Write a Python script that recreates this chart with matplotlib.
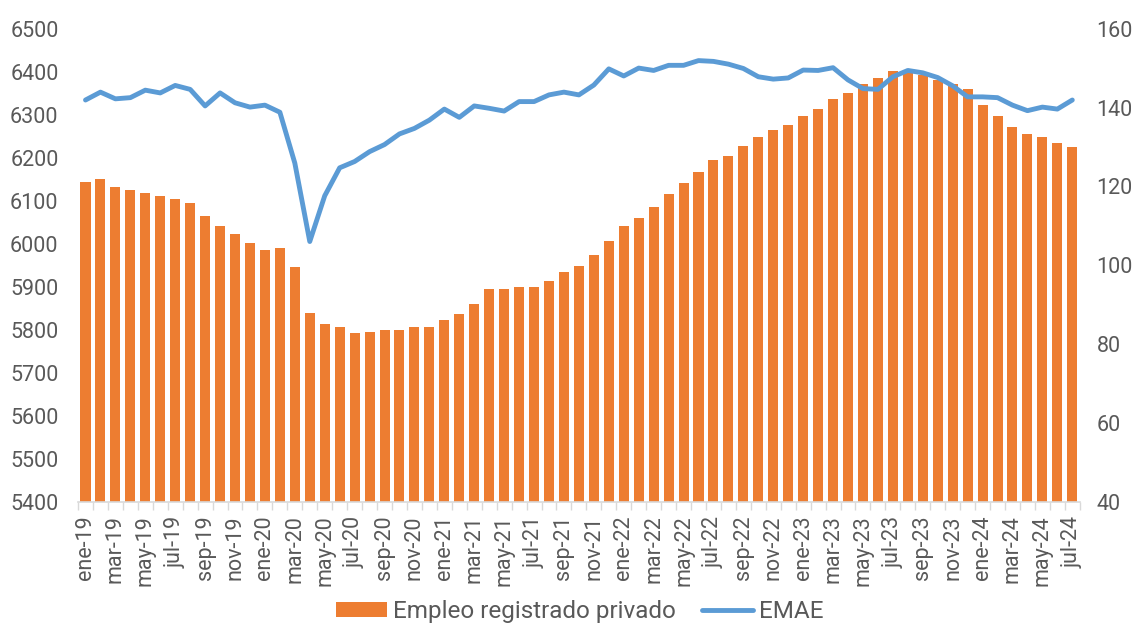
import matplotlib.pyplot as plt
import numpy as np

plt.rcParams['font.family'] = ['Roboto', 'DejaVu Sans']

meses = ['ene', 'feb', 'mar', 'abr', 'may', 'jun', 'jul', 'ago', 'sep', 'oct', 'nov', 'dic']
fechas = [f'{m}-{a}' for a in range(19, 25) for m in meses][:67]

# empleo registrado privado (miles)
empleo = [6144, 6150, 6131, 6125, 6119, 6110, 6104, 6094, 6064, 6040, 6022, 6001,
          5986, 5989, 5946, 5838, 5813, 5806, 5792, 5795, 5799, 5799, 5806, 5806,
          5823, 5837, 5860, 5894, 5895, 5900, 5900, 5913, 5934, 5948, 5973, 6007,
          6040, 6060, 6085, 6115, 6141, 6166, 6195, 6204, 6227, 6247, 6264, 6275,
          6296, 6313, 6336, 6351, 6371, 6385, 6401, 6402, 6392, 6381, 6371, 6360,
          6323, 6297, 6271, 6255, 6247, 6233, 6224]

emae = [141.9, 143.9, 142.2, 142.5, 144.4, 143.7, 145.6, 144.6, 140.4, 143.7, 141.2, 140.1,
        140.6, 138.8, 125.9, 106.0, 117.6, 124.7, 126.3, 128.8, 130.6, 133.3, 134.7, 136.8,
        139.6, 137.5, 140.4, 139.8, 139.1, 141.5, 141.5, 143.2, 143.9, 143.2, 145.7, 149.8,
        148.0, 150.0, 149.4, 150.7, 150.7, 151.9, 151.7, 151.0, 149.9, 147.8, 147.2, 147.5,
        149.5, 149.4, 150.1, 147.0, 144.8, 144.6, 147.8, 149.4, 148.8, 147.6, 145.5, 142.7,
        142.7, 142.5, 140.6, 139.2, 140.1, 139.6, 141.9]

x = np.arange(len(fechas))
gris = '#595959'

fig = plt.figure(figsize=(11.39, 6.26), dpi=100)
ax = fig.add_axes([0.0685, 0.1986, 0.8795, 0.7556])
ax2 = ax.twinx()

ax.bar(x, empleo, width=0.67, color='#ED7D31', label='Empleo registrado privado', zorder=2)
ax2.plot(x, emae, color='#5B9BD5', lw=3.5, label='EMAE', solid_capstyle='round')

ax.set_xlim(-0.5, len(x) - 0.5)
ax.set_ylim(5400, 6500)
ax.set_yticks(np.arange(5400, 6501, 100))
ax2.set_ylim(40, 160)
ax2.set_yticks(np.arange(40, 161, 20))

ax.set_xticks(x[::2])
ax.set_xticklabels(fechas[::2], rotation=90)
ax.set_xticks(np.arange(-0.5, len(x), 1), minor=True)
ax.tick_params(axis='x', which='major', length=0, pad=10, labelsize=15.5, labelcolor=gris)
ax.tick_params(axis='x', which='minor', length=6, width=1, color='#D9D9D9')
ax.tick_params(axis='y', length=0, pad=14, labelsize=15.5, labelcolor=gris)
ax2.tick_params(axis='y', length=0, pad=12, labelsize=15.5, labelcolor=gris)

for a in (ax, ax2):
    for s in ['top', 'right', 'left']:
        a.spines[s].set_visible(False)
ax2.spines['bottom'].set_visible(False)
ax.spines['bottom'].set_color('#D9D9D9')
ax.spines['bottom'].set_linewidth(1.2)

h1, l1 = ax.get_legend_handles_labels()
h2, l2 = ax2.get_legend_handles_labels()
fig.legend(h1 + h2, l1 + l2, loc='lower center', bbox_to_anchor=(0.509, -0.03), ncol=2,
           frameon=False, fontsize=17.5, labelcolor=gris, handlelength=2.1,
           handleheight=0.55, columnspacing=1.1, handletextpad=0.25)

fig.savefig('out.png', dpi=100)
